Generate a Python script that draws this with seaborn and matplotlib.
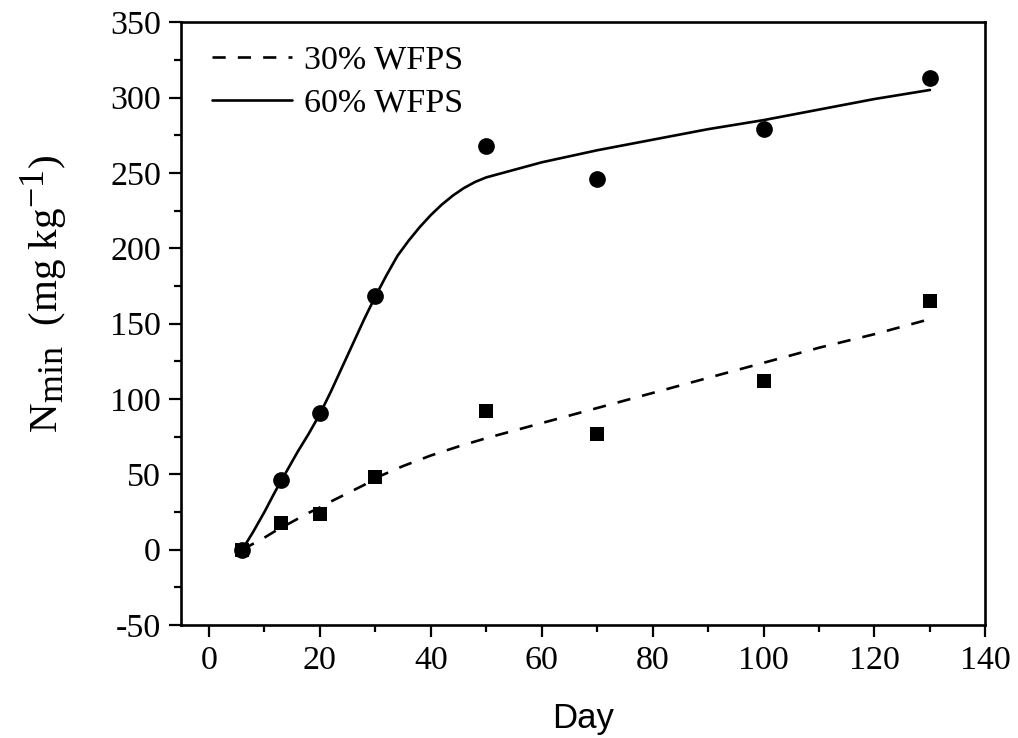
import numpy as np
import pandas as pd
import matplotlib
matplotlib.use("Agg")
import matplotlib.pyplot as plt
import matplotlib._mathtext as _mt
from matplotlib.ticker import MultipleLocator
import seaborn as sns

# Observed data
days = [6, 13, 20, 30, 50, 70, 100, 130]
nmin_60 = [0, 46, 91, 168, 268, 246, 279, 313]
nmin_30 = [0, 18, 24, 48, 92, 77, 112, 165]

# Fitted curves
fit60_days = [6, 8, 10, 12, 14, 16, 18, 20, 22, 24, 26, 28, 30, 32, 34, 36, 38, 40,
              42, 44, 46, 48, 50, 53, 56, 60, 65, 70, 80, 90, 100, 110, 120, 130]
fit60_vals = [0, 12, 25, 39, 52, 65, 77, 90, 105, 121, 137, 153, 168, 182, 195, 205, 214, 222,
              229, 235, 240, 244, 247, 250, 253, 257, 261, 265, 272, 279, 285, 292, 299, 305]
fit30_days = [6, 8, 10, 12, 14, 16, 18, 20, 22, 25, 28, 30, 35, 40, 45, 50, 60, 70,
              80, 90, 100, 110, 120, 130]
fit30_vals = [0, 4, 8, 12.5, 16.5, 20.5, 24.5, 28, 32, 37.5, 43, 47.5, 55.5, 62.5, 68.5, 74,
              84, 94, 104, 114, 124, 134, 143, 153]

# larger sub/superscripts, as in the reference label
_mt.SHRINK_FACTOR = 0.88

sns.set_style("ticks")
plt.rcParams["font.family"] = ["Liberation Serif", "DejaVu Serif"]
plt.rcParams["mathtext.fontset"] = "custom"
plt.rcParams["mathtext.rm"] = "Liberation Serif"
plt.rcParams["mathtext.it"] = "Liberation Serif:italic"
plt.rcParams["axes.unicode_minus"] = False
for k in ["text.color", "axes.labelcolor", "xtick.color", "ytick.color",
          "xtick.labelcolor", "ytick.labelcolor"]:
    plt.rcParams[k] = "black"

fig = plt.figure(figsize=(10.18, 7.38), dpi=100)
ax = fig.add_axes([0.178, 0.153, 0.79, 0.817])

df30 = pd.DataFrame({"Day": fit30_days, "N": fit30_vals})
df60 = pd.DataFrame({"Day": fit60_days, "N": fit60_vals})
sns.lineplot(data=df30, x="Day", y="N", ax=ax, color="black", lw=1.9,
             linestyle=(0, (5.0, 4.6)), label="30% WFPS")
sns.lineplot(data=df60, x="Day", y="N", ax=ax, color="black", lw=1.9,
             label="60% WFPS")

obs = pd.DataFrame({"Day": days, "N60": nmin_60, "N30": nmin_30})
sns.scatterplot(data=obs, x="Day", y="N60", ax=ax, color="black", marker="o",
                s=145, edgecolor="black", linewidth=0, zorder=5)
sns.scatterplot(data=obs, x="Day", y="N30", ax=ax, color="black", marker="s",
                s=100, edgecolor="black", linewidth=0, zorder=5)

ax.set_xlim(-5, 140)
ax.set_ylim(-50, 350)
ax.xaxis.set_major_locator(MultipleLocator(20))
ax.xaxis.set_minor_locator(MultipleLocator(10))
ax.yaxis.set_major_locator(MultipleLocator(50))
ax.yaxis.set_minor_locator(MultipleLocator(25))
ax.tick_params(which="major", direction="out", length=8.5, width=1.6,
               labelsize=24.5, top=False, right=False, pad=6, colors="black")
ax.tick_params(which="minor", direction="out", length=5, width=1.6,
               top=False, right=False, colors="black")
for sp in ax.spines.values():
    sp.set_visible(True)
    sp.set_linewidth(1.9)
    sp.set_color("black")

ax.set_xlabel("Day", fontsize=25, family=["Liberation Sans", "DejaVu Sans"],
              labelpad=19, color="black")
ax.set_ylabel(r"N$_{\mathrm{min}}$  (mg kg$^{-1}$)", fontsize=29.5, color="black")
ax.yaxis.set_label_coords(-0.138, 0.55)

leg = ax.legend(loc="upper left", frameon=False, fontsize=24.5, handlelength=2.35,
                handletextpad=0.35, borderaxespad=0.0, borderpad=0.0, labelspacing=0.35,
                bbox_to_anchor=(0.038, 0.962))
for t in leg.get_texts():
    t.set_color("black")

fig.savefig("out.png", dpi=100, facecolor="white")
